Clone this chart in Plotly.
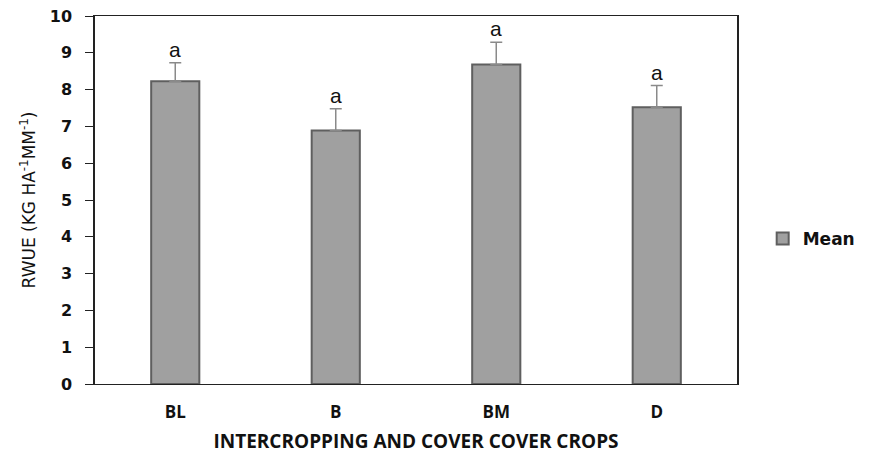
import plotly.graph_objects as go

# RWUE means per treatment, with upper error bars and significance letters
treatments = ["BL", "B", "BM", "D"]
rwue_mean = [8.23, 6.89, 8.68, 7.52]
rwue_err = [0.50, 0.59, 0.61, 0.59]
sig_letters = ["a", "a", "a", "a"]

fig = go.Figure()
fig.add_trace(go.Bar(
    x=treatments,
    y=rwue_mean,
    name="<b>Mean</b>",
    width=0.3,
    marker=dict(color="#a0a0a0", line=dict(color="#5f5f5f", width=2)),
    error_y=dict(type="data", array=rwue_err, symmetric=False,
                 arrayminus=[0] * len(rwue_err),
                 color="#8a8a8a", thickness=1.5, width=6),
))

for t, m, e, s in zip(treatments, rwue_mean, rwue_err, sig_letters):
    fig.add_annotation(x=t, y=m + e, text=s, showarrow=False,
                       yanchor="bottom", yshift=0,
                       font=dict(family="Liberation Sans, Arial", size=21, color="#111"))

fig.update_layout(
    width=873, height=454,
    margin=dict(l=95, r=129, t=16, b=70),
    paper_bgcolor="white", plot_bgcolor="white",
    showlegend=True,
    legend=dict(x=1.04, y=0.394, xanchor="left", yanchor="middle",
                font=dict(family="DejaVu Sans", size=17, color="#111"),
                itemwidth=30, bgcolor="rgba(0,0,0,0)"),
    xaxis=dict(
        automargin=False,
        showline=True, linecolor="#222", linewidth=1, mirror=True,
        ticks="", ticklabelstandoff=13,
        tickfont=dict(family="Open Sans", size=17, color="#111", weight="bold"),
        title=dict(text="<b>INTERCROPPING AND COVER COVER CROPS</b>",
                   font=dict(family="Open Sans", size=19, color="#111"), standoff=14),
    ),
    yaxis=dict(
        automargin=False,
        range=[0, 10], dtick=1, showgrid=False, zeroline=False,
        showline=True, linecolor="#222", linewidth=1.5, mirror=True,
        ticks="outside", ticklen=8, tickcolor="#222", ticklabelstandoff=10,
        tickfont=dict(family="DejaVu Sans", size=16, color="#111", weight="bold"),
        title=dict(text="RWUE (KG HA<sup>-1</sup>MM<sup>-1</sup>)",
                   font=dict(family="DejaVu Sans", size=17, color="#111"), standoff=10),
    ),
)

fig.write_html("out.html")
